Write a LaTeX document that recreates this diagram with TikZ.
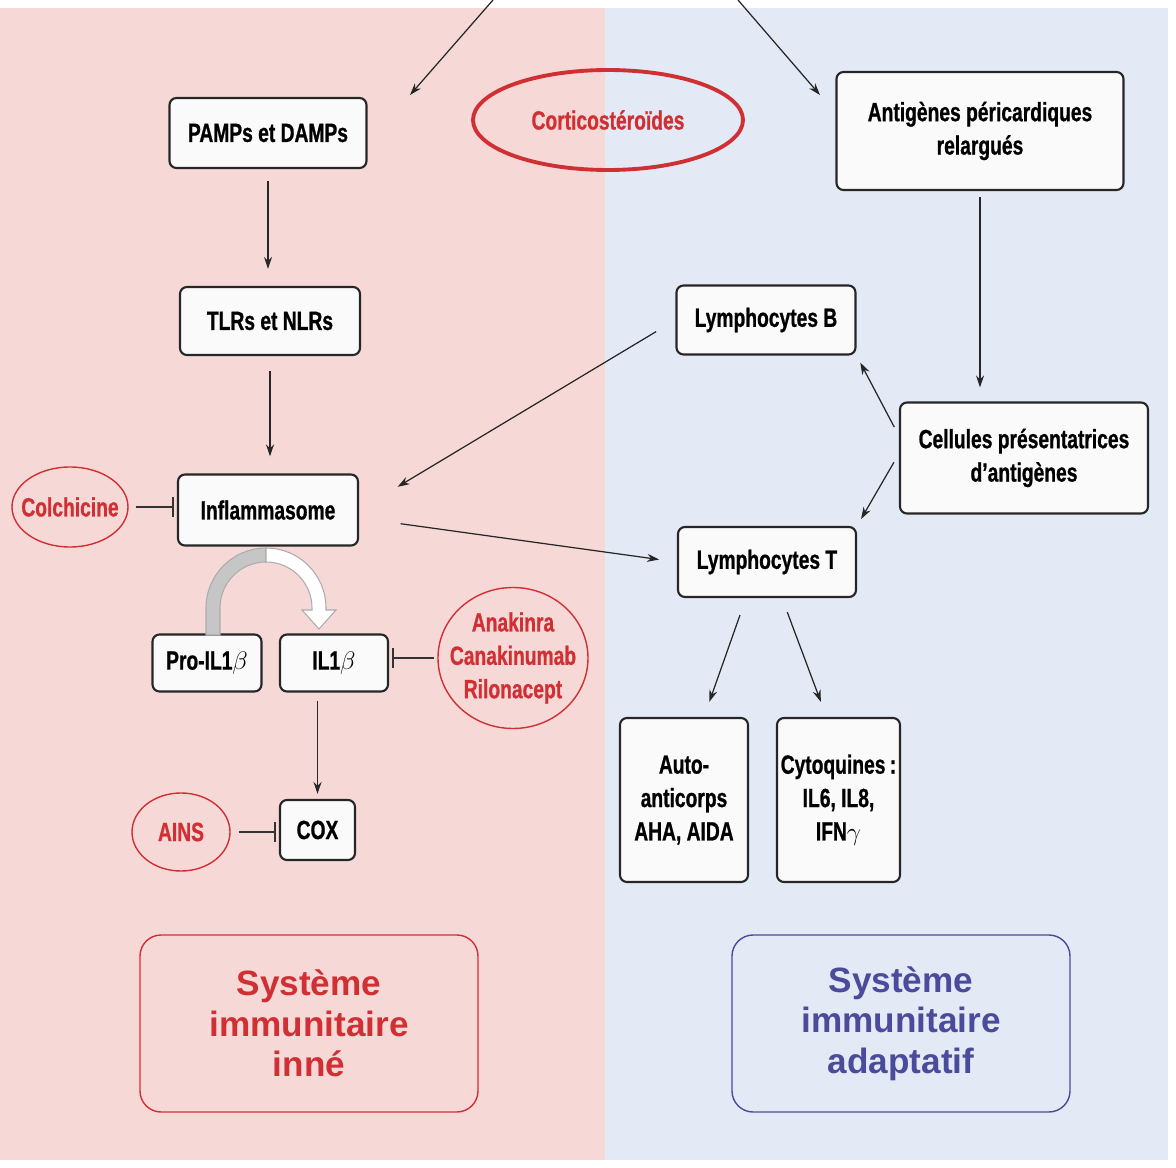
\documentclass[tikz,border=0pt]{standalone}
\usepackage{fontspec}
\setmainfont{Liberation Sans}
\newfontfamily\condfont{Liberation Sans}[FakeStretch=0.73, BoldFeatures={FakeBold=0.8}]
\usetikzlibrary{arrows.meta,shapes,calc}

\definecolor{innebg}{RGB}{246,217,215}
\definecolor{adaptbg}{RGB}{227,233,245}
\definecolor{drugred}{RGB}{208,48,52}
\definecolor{adaptblue}{RGB}{75,75,155}
\definecolor{boxfill}{RGB}{250,250,250}

\begin{document}
\begin{tikzpicture}[
    entity/.style={rectangle, draw=black!85, fill=boxfill, rounded corners=4pt, line width=1.2pt, align=center, inner sep=2pt, font=\condfont\bfseries\fontsize{15}{19}\selectfont},
    drug/.style={ellipse, draw=drugred, line width=0.8pt, text=drugred, align=center, inner sep=-8pt, font=\condfont\bfseries\fontsize{15}{19}\selectfont},
    sysbox/.style={rectangle, rounded corners=12pt, line width=0.8pt, minimum width=6.76cm, minimum height=3.54cm, align=center, font=\bfseries\fontsize{20}{23}\selectfont},
    act/.style={-{Stealth[length=2.4mm,width=1.6mm]}, line width=0.7pt, black!85},
    inhib/.style={-{Bar[width=4mm]}, line width=1pt, black!80}
]
\useasboundingbox (0,0) rectangle (23.52,-23.36);

% Background halves
\fill[white] (0,0) rectangle (23.52,-23.36);
\fill[innebg] (0,-0.16) rectangle (12.1,-23.2);
\fill[adaptbg] (12.1,-0.16) rectangle (23.36,-23.2);

% Incoming arrows from above
\coordinate (srcL) at (9.86,0);
\coordinate (tipL) at (8.2,-1.9);
\coordinate (srcR) at (14.76,0);
\coordinate (tipR) at (16.4,-1.9);
\draw[act] (srcL) -- (tipL);
\draw[act] (srcR) -- (tipR);

% Innate side
\node[entity, minimum width=3.94cm, minimum height=1.4cm] (pamps) at (5.36,-2.66) {PAMPs et DAMPs};
\node[entity, minimum width=3.6cm, minimum height=1.36cm] (tlrs) at (5.4,-6.42) {TLRs et NLRs};
\node[entity, minimum width=3.6cm, minimum height=1.42cm] (infl) at (5.36,-10.2) {Inflammasome};
\node[entity, minimum width=2.18cm, minimum height=1.14cm] (pro) at (4.14,-13.26) {Pro-IL1$\beta$};
\node[entity, minimum width=2.16cm, minimum height=1.14cm] (il) at (6.68,-13.26) {IL1$\beta$};
\node[entity, minimum width=1.5cm, minimum height=1.2cm] (cox) at (6.35,-16.6) {COX};

% Drugs
\node[drug, line width=2.2pt, minimum width=5.4cm, minimum height=2.0cm] (cortico) at (12.16,-2.4) {Corticostéroïdes};
\node[drug, minimum width=2.32cm, minimum height=1.6cm] (colch) at (1.4,-10.14) {Colchicine};
\node[drug, minimum width=3.0cm, minimum height=2.82cm] (anak) at (10.26,-13.16) {Anakinra\\Canakinumab\\Rilonacept};
\node[drug, minimum width=1.96cm, minimum height=1.56cm] (ains) at (3.62,-16.64) {AINS};

% Adaptive side
\node[entity, minimum width=5.74cm, minimum height=2.36cm] (antig) at (19.6,-2.62) {Antigènes péricardiques\\relargués};
\node[entity, minimum width=3.58cm, minimum height=1.38cm] (lb) at (15.32,-6.4) {Lymphocytes B};
\node[entity, minimum width=4.96cm, minimum height=2.22cm] (cell) at (20.48,-9.16) {Cellules présentatrices\\d’antigènes};
\node[entity, minimum width=3.56cm, minimum height=1.4cm] (lt) at (15.34,-11.24) {Lymphocytes T};
\node[entity, minimum width=2.56cm, minimum height=3.28cm] (auto) at (13.68,-16.0) {Auto-\\anticorps\\AHA, AIDA};
\node[entity, minimum width=2.46cm, minimum height=3.28cm] (cyto) at (16.77,-16.0) {Cytoquines\,:\\IL6, IL8,\\IFN$\gamma$};

% System labels
\node[sysbox, draw=drugred, text=drugred] (innate) at (6.18,-20.47) {\raisebox{-3pt}{\parbox{6cm}{\centering Système\\immunitaire\\inné}}};
\node[sysbox, draw=adaptblue, text=adaptblue] (adapt) at (18.02,-20.47) {\raisebox{-3pt}{\parbox{6cm}{\centering Système\\immunitaire\\adaptatif}}};

% Maturation band arrow
\filldraw[fill=gray!45, draw=gray!65, line width=0.6pt] (4.12,-12.7) -- (4.12,-12.16) arc[start angle=180, end angle=90, radius=1.2] -- (5.32,-11.24) arc[start angle=90, end angle=180, radius=0.92] -- (4.4,-12.7) -- cycle;
\filldraw[fill=white, draw=gray!65, line width=0.6pt] (5.32,-10.96) arc[start angle=90, end angle=0, radius=1.2] -- (6.52,-12.2) -- (6.72,-12.2) -- (6.38,-12.58) -- (6.04,-12.2) -- (6.24,-12.2) -- (6.24,-12.16) arc[start angle=0, end angle=90, radius=0.92] -- cycle;

% Activation arrows
\draw[act, shorten <=0.24cm, shorten >=0.34cm] (pamps.south) -- (pamps.south |- tlrs.north);
\draw[act, shorten <=0.3cm, shorten >=0.34cm] (tlrs.south) -- (tlrs.south |- infl.north);
\draw[act, shorten <=0.16cm, shorten >=0.1cm] (il.south -| cox.north) -- (cox.north);
\draw[act, shorten <=0.45cm, shorten >=0.9cm] (lb.west) -- (infl.east);
\draw[act, shorten <=0.84cm, shorten >=0.36cm] (infl.-5) -- (lt.west);
\draw[act, shorten <=0.12cm, shorten >=0.28cm] (antig.south) -- (antig.south |- cell.north);
\draw[act, shorten <=0.2cm, shorten >=0.16cm] (cell.170) -- (lb.south east);
\draw[act, shorten <=0.2cm, shorten >=0.16cm] (cell.178) -- (lt.north east);
\draw[act, shorten <=0.36cm, shorten >=0.32cm] ($(lt.south)+(-0.42,0)$) -- ($(auto.north)+(0.4,0)$);
\draw[act, shorten <=0.3cm, shorten >=0.32cm] ($(lt.south)+(0.3,0)$) -- ($(cyto.north)+(-0.24,0)$);

% Inhibitions
\draw[inhib, shorten <=0.14cm, shorten >=0.06cm] (colch.east) -- (colch.east -| infl.west);
\draw[inhib, shorten <=0.06cm, shorten >=0.06cm] (anak.west) -- (anak.west -| il.east);
\draw[inhib, shorten <=0.16cm, shorten >=0.06cm] (ains.east) -- (ains.east -| cox.west);

\end{tikzpicture}
\end{document}
